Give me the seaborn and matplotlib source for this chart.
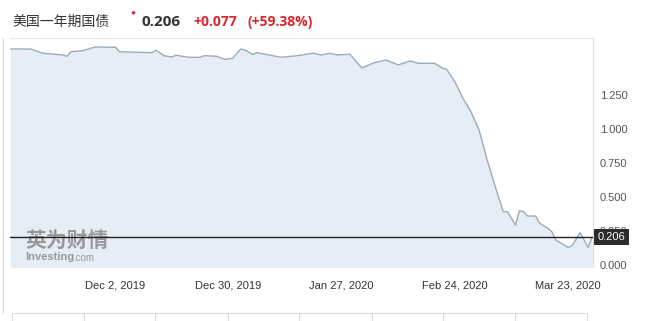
import matplotlib
matplotlib.use("Agg")
import matplotlib.pyplot as plt
import matplotlib.transforms as mtransforms
from matplotlib.lines import Line2D
import seaborn as sns
import pandas as pd

# ---- data ----
dates = ["2019-11-06", "2019-11-11", "2019-11-14", "2019-11-19", "2019-11-20", "2019-11-21",
         "2019-11-24", "2019-11-27", "2019-12-02", "2019-12-03", "2019-12-11", "2019-12-12",
         "2019-12-14", "2019-12-16", "2019-12-17", "2019-12-20", "2019-12-23", "2019-12-24",
         "2019-12-27", "2019-12-29", "2019-12-31", "2020-01-02", "2020-01-03", "2020-01-05",
         "2020-01-06", "2020-01-09", "2020-01-12", "2020-01-16", "2020-01-20", "2020-01-22",
         "2020-01-24", "2020-01-26", "2020-01-29", "2020-02-01", "2020-02-04", "2020-02-07",
         "2020-02-10", "2020-02-13", "2020-02-15", "2020-02-19", "2020-02-21", "2020-02-22",
         "2020-02-24", "2020-02-26", "2020-02-28", "2020-03-01", "2020-03-03", "2020-03-05",
         "2020-03-07", "2020-03-08", "2020-03-10", "2020-03-11", "2020-03-12", "2020-03-13",
         "2020-03-15", "2020-03-16", "2020-03-18", "2020-03-19", "2020-03-20", "2020-03-23",
         "2020-03-24", "2020-03-26", "2020-03-28", "2020-03-29"]
yields = [1.588, 1.588, 1.557, 1.544, 1.535, 1.568,
          1.576, 1.603, 1.601, 1.568, 1.561, 1.579,
          1.539, 1.529, 1.542, 1.527, 1.527, 1.539,
          1.535, 1.512, 1.520, 1.588, 1.581, 1.549,
          1.561, 1.544, 1.527, 1.539, 1.557, 1.544,
          1.557, 1.544, 1.550, 1.449, 1.487, 1.507,
          1.471, 1.500, 1.483, 1.483, 1.446, 1.439,
          1.348, 1.226, 1.127, 0.993, 0.772, 0.576,
          0.392, 0.392, 0.294, 0.399, 0.392, 0.360,
          0.360, 0.307, 0.270, 0.245, 0.184, 0.130,
          0.140, 0.238, 0.129, 0.206]
ytick_values = [0.0, 0.25, 0.5, 0.75, 1.0, 1.25]
ytick_labels = ["0.000", "0.250", "0.500", "0.750", "1.000", "1.250"]
xtick_dates = ["2019-12-02", "2019-12-30", "2020-01-27", "2020-02-24", "2020-03-23"]
xtick_labels = ["Dec 2, 2019", "Dec 30, 2019", "Jan 27, 2020", "Feb 24, 2020", "Mar 23, 2020"]
title_name = "美国一年期国债"
last_value = "0.206"
change = "+0.077"
change_pct = "(+59.38%)"
current = 0.206

df = pd.DataFrame({"date": pd.to_datetime(dates), "yield": yields})

sns.set_theme(style="white")
plt.rcParams["font.family"] = ["Liberation Sans", "DejaVu Sans"]

fig = plt.figure(figsize=(6.48, 3.21), dpi=100)
W, H = 648, 321
ax = fig.add_axes([10 / W, 1 - 267 / H, (593 - 10) / W, (267 - 38) / H])

line_col = "#9aabbb"
fill_col = "#e6edf5"
ax.fill_between(df["date"], df["yield"], -0.1, color=fill_col, lw=0)
sns.lineplot(data=df, x="date", y="yield", ax=ax, color=line_col, lw=1.0)

d0 = pd.Timestamp("2019-12-02")
ax.set_xlim(d0 - pd.Timedelta(days=26.1), d0 + pd.Timedelta(days=118.2))
ax.set_ylim(-0.0147, 1.669)

ax.axhline(current, color="#222222", lw=1.0, zorder=5)

ax.yaxis.tick_right()
ax.set_yticks(ytick_values)
ax.set_yticklabels(ytick_labels, fontsize=8, color="#555555")
ax.set_xticks(pd.to_datetime(xtick_dates))
ax.set_xticklabels(xtick_labels, fontsize=8, color="#333333")
ax.tick_params(axis="y", length=0, pad=5)
ax.tick_params(axis="x", length=0, pad=10)
ax.set_xlabel("")
ax.set_ylabel("")
for s in ["left", "bottom"]:
    ax.spines[s].set_visible(False)
ax.spines["right"].set_color("#dddddd")
ax.spines["right"].set_linewidth(0.8)
ax.spines["top"].set_color("#e6e6e6")
ax.spines["top"].set_linewidth(0.8)
ax.grid(False)

# current value tag (covers the 0.250 label as in the original)
trans = mtransforms.blended_transform_factory(ax.transAxes, ax.transData)
ax.text(1.008, current, last_value, transform=trans, ha="left", va="center",
        fontsize=8, color="white", zorder=6, clip_on=False,
        bbox=dict(boxstyle="square,pad=0.3", fc="#2b2b2b", ec="none"))

# watermark
ax.text(0.026, 0.114, "英为财情", transform=ax.transAxes, fontsize=15, fontweight="bold",
        color="#8a8a8a", alpha=0.85, family=["Noto Sans CJK SC"], ha="left", va="center",
        zorder=4)
ax.text(0.026, 0.044, "Investing", transform=ax.transAxes, fontsize=8, fontweight="bold",
        color="#8a8a8a", alpha=0.85, ha="left", va="center")
ax.text(0.109, 0.040, ".com", transform=ax.transAxes, fontsize=7,
        color="#8a8a8a", alpha=0.85, ha="left", va="center")

# header
cjk = ["Noto Sans CJK SC", "DejaVu Sans"]
fig.text(12 / W, 1 - 22 / H, title_name, fontsize=10, color="#333333", family=cjk,
         ha="left", va="center")
fig.text(133 / W, 1 - 13 / H, "●", fontsize=6, color="#d9262c", ha="center", va="center")
fig.text(141 / W, 1 - 22 / H, last_value, fontsize=11, fontweight="bold", color="#333333",
         family=["Open Sans"], ha="left", va="center")
fig.text(193 / W, 1 - 22 / H, change, fontsize=10, fontweight="bold", color="#d9262c",
         family=["Open Sans"], ha="left", va="center")
fig.text(248 / W, 1 - 22 / H, change_pct, fontsize=10, fontweight="bold", color="#d9262c",
         family=["Open Sans"], ha="left", va="center")

# frame decorations
fig.add_artist(Line2D([3 / W, 3 / W], [1 - 38 / H, 1 - 313 / H], color="#d8d8d8", lw=0.8))
fig.add_artist(Line2D([12 / W, 587 / W], [1 - 313 / H, 1 - 313 / H], color="#dddddd", lw=0.8))
for xs in [12, 83.5, 155, 227.5, 299, 371.6, 443, 515, 587]:
    fig.add_artist(Line2D([xs / W, xs / W], [1 - 313 / H, 1 - 321 / H], color="#dddddd", lw=0.8))

fig.savefig("out.png", dpi=100)
